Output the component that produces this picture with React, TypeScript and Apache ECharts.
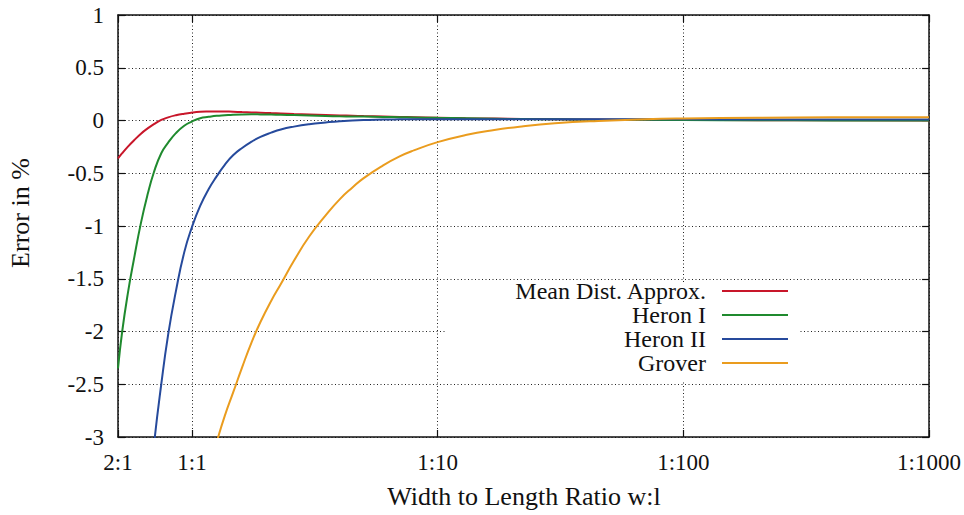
import React, { useEffect, useRef } from "react";
import * as echarts from "echarts";

// Length-to-width ratio l/w (log scale), shared by all curves
const ratios = [
  0.5, 0.52, 0.55, 0.58, 0.62, 0.66, 0.7, 0.75, 0.8, 0.86, 0.93, 1, 1.08, 1.17, 1.26, 1.36, 1.47, 1.6,
  1.75, 1.9, 2.1, 2.3, 2.6, 3, 3.5, 4, 4.5, 5, 6, 7, 8, 10, 13, 17, 22, 30, 45, 70, 100, 200, 400, 1000,
];

// Relative error in percent for each approximation
const meanDist = [
  -0.36, -0.31, -0.245, -0.19, -0.125, -0.075, -0.035, 0.005, 0.03, 0.05, 0.065, 0.075, 0.082, 0.085,
  0.086, 0.085, 0.083, 0.08, 0.077, 0.074, 0.07, 0.067, 0.062, 0.057, 0.052, 0.048, 0.045, 0.042, 0.038,
  0.034, 0.031, 0.027, 0.022, 0.018, 0.015, 0.012, 0.009, 0.006, 0.005, 0.003, 0.002, 0.001,
];
const heronI = [
  -2.35, -2.0, -1.62, -1.32, -0.97, -0.7, -0.49, -0.31, -0.21, -0.12, -0.05, -0.01, 0.022, 0.035, 0.045,
  0.05, 0.055, 0.058, 0.059, 0.058, 0.056, 0.054, 0.051, 0.047, 0.043, 0.04, 0.038, 0.037, 0.034, 0.031,
  0.029, 0.025, 0.021, 0.017, 0.014, 0.011, 0.008, 0.006, 0.004, 0.002, 0.001, 0.0,
];
const heronII = [
  null, null, null, null, null, -3.7, -3.08, -2.5, -2.03, -1.62, -1.25, -1.01, -0.81, -0.65, -0.53, -0.42,
  -0.33, -0.26, -0.2, -0.155, -0.115, -0.085, -0.058, -0.035, -0.018, -0.006, 0.0, 0.004, 0.009, 0.011,
  0.012, 0.013, 0.013, 0.013, 0.013, 0.012, 0.012, 0.011, 0.011, 0.01, 0.01, 0.01,
];
const grover = [
  null, null, null, null, null, null, null, null, null, null, null, null, null, -3.31, -3.05, -2.8, -2.58,
  -2.34, -2.1, -1.91, -1.71, -1.55, -1.33, -1.1, -0.9, -0.745, -0.635, -0.546, -0.425, -0.34, -0.283,
  -0.205, -0.138, -0.09, -0.056, -0.027, -0.004, 0.012, 0.019, 0.026, 0.03, 0.031,
];

const seriesNames = ["Mean Dist. Approx.", "Heron I", "Heron II", "Grover"];
const seriesColors = ["#c8162a", "#1f8a2e", "#264a9c", "#ea9c1e"];
const seriesValues = [meanDist, heronI, heronII, grover];

const xTickValues = [0.5, 1, 10, 100, 1000];
const xTickLabels = ["2:1", "1:1", "1:10", "1:100", "1:1000"];

const FONT = "Liberation Serif";

function ratioLabel(v: number): string {
  const lv = Math.log10(v);
  for (let i = 0; i < xTickValues.length; i++) {
    if (Math.abs(lv - Math.log10(xTickValues[i])) < 0.01) return xTickLabels[i];
  }
  return "";
}

export default function App() {
  const ref = useRef<HTMLDivElement>(null);

  useEffect(() => {
    if (!ref.current) return;
    const chart = echarts.init(ref.current, null, { renderer: "svg" });

    const gridLeft = 118;
    const gridTop = 15;
    const gridRight = 964 - 931;
    const gridBottom = 515 - 437;

    const frameLine = { show: true, onZero: false, lineStyle: { color: "#111", width: 1.5 } };
    const innerTick = { show: true, inside: true, length: 7, lineStyle: { color: "#111", width: 1.2 } };
    const dotted = { show: true, lineStyle: { color: "#222", width: 1, type: [1, 2.5] as any } };

    const legendRows = [291, 315, 339, 363];
    const legendGraphics: any[] = [
      { type: "rect", z: 10, shape: { x: 446, y: 282, width: 354, height: 99 }, style: { fill: "#fff" } },
    ];
    seriesNames.forEach((name, i) => {
      legendGraphics.push({
        type: "text",
        z: 11,
        x: 706,
        y: legendRows[i],
        style: {
          text: name,
          fontFamily: FONT,
          fontSize: 24,
          fill: "#111",
          align: "right",
          verticalAlign: "middle",
        },
      });
      legendGraphics.push({
        type: "line",
        z: 11,
        shape: { x1: 722, y1: legendRows[i], x2: 788, y2: legendRows[i] },
        style: { stroke: seriesColors[i], lineWidth: 2 },
      });
    });

    chart.setOption({
      animation: false,
      backgroundColor: "#fff",
      grid: { left: gridLeft, right: gridRight, top: gridTop, bottom: gridBottom, containLabel: false },
      xAxis: [
        {
          type: "log",
          logBase: 10,
          min: 0.5,
          max: 1000,
          axisLine: frameLine,
          axisTick: innerTick,
          splitLine: dotted,
          minorTick: { show: false },
          axisLabel: {
            show: true,
            margin: 14,
            fontFamily: FONT,
            fontSize: 23,
            color: "#111",
            showMinLabel: true,
            showMaxLabel: true,
            formatter: (v: number) => ratioLabel(v),
          },
        },
        {
          type: "log",
          logBase: 10,
          min: 0.5,
          max: 1000,
          position: "top",
          axisLine: frameLine,
          axisTick: innerTick,
          splitLine: { show: false },
          axisLabel: { show: false },
        },
      ],
      yAxis: [
        {
          type: "value",
          min: -3,
          max: 1,
          interval: 0.5,
          axisLine: frameLine,
          axisTick: innerTick,
          splitLine: dotted,
          axisLabel: { margin: 14, fontFamily: FONT, fontSize: 23, color: "#111" },
        },
        {
          type: "value",
          min: -3,
          max: 1,
          interval: 0.5,
          position: "right",
          axisLine: frameLine,
          axisTick: innerTick,
          splitLine: { show: false },
          axisLabel: { show: false },
        },
      ],
      series: seriesNames.map((name, i) => ({
        name,
        type: "line",
        xAxisIndex: 0,
        yAxisIndex: 0,
        showSymbol: false,
        symbol: "none",
        smooth: 0.5,
        clip: true,
        connectNulls: false,
        lineStyle: { color: seriesColors[i], width: 2 },
        itemStyle: { color: seriesColors[i] },
        data: ratios.map((r, k) => [r, seriesValues[i][k]]),
      })),
      graphic: [
        ...legendGraphics,
        {
          type: "text",
          x: 20,
          y: 213,
          rotation: Math.PI / 2,
          style: {
            text: "Error in %",
            fontFamily: FONT,
            fontSize: 26,
            fill: "#111",
            align: "center",
            verticalAlign: "middle",
          },
        },
        {
          type: "text",
          x: 524,
          y: 496,
          style: {
            text: "Width to Length Ratio w:l",
            fontFamily: FONT,
            fontSize: 26,
            fill: "#111",
            align: "center",
            verticalAlign: "middle",
          },
        },
      ],
    });

    return () => chart.dispose();
  }, []);

  return <div ref={ref} style={{ position: "fixed", left: 0, top: 0, width: 964, height: 515 }} />;
}
